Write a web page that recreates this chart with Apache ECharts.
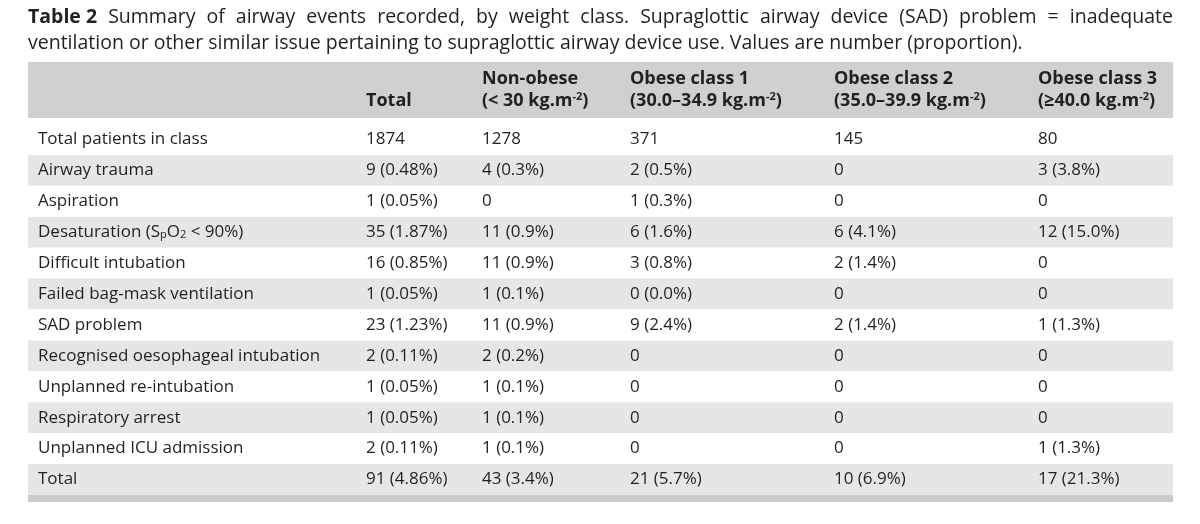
<!DOCTYPE html>
<html>
<head>
<meta charset="utf-8">
<script src="https://cdn.jsdelivr.net/npm/echarts@6/dist/echarts.min.js"></script>
<style>
  html, body { margin: 0; padding: 0; background: #fff; }
  #chart { width: 1200px; height: 524px; }
</style>
</head>
<body>
<div id="chart"></div>
<script>
// caption
const captionLabel = 'Table 2';
const captionLine1 = 'Summary of airway events recorded, by weight class. Supraglottic airway device (SAD) problem = inadequate';
const captionLine2 = 'ventilation or other similar issue pertaining to supraglottic airway device use. Values are number (proportion).';

// column headers (two lines each)
const columnHeads = [
  ['', 'Total'],
  ['Non-obese', '(< 30 kg.m{sup|-2})'],
  ['Obese class 1', '(30.0\u201334.9 kg.m{sup|-2})'],
  ['Obese class 2', '(35.0\u201339.9 kg.m{sup|-2})'],
  ['Obese class 3', '(\u226540.0 kg.m{sup|-2})'],
];

// row categories
const rowLabels = [
  'Total patients in class',
  'Airway trauma',
  'Aspiration',
  'Desaturation (S{sub|p}O{sub|2} < 90%)',
  'Difficult intubation',
  'Failed bag-mask ventilation',
  'SAD problem',
  'Recognised oesophageal intubation',
  'Unplanned re-intubation',
  'Respiratory arrest',
  'Unplanned ICU admission',
  'Total',
];

// values, number (proportion)
const totalAll = ['1874', '9 (0.48%)', '1 (0.05%)', '35 (1.87%)', '16 (0.85%)', '1 (0.05%)',
  '23 (1.23%)', '2 (0.11%)', '1 (0.05%)', '1 (0.05%)', '2 (0.11%)', '91 (4.86%)'];
const nonObese = ['1278', '4 (0.3%)', '0', '11 (0.9%)', '11 (0.9%)', '1 (0.1%)',
  '11 (0.9%)', '2 (0.2%)', '1 (0.1%)', '1 (0.1%)', '1 (0.1%)', '43 (3.4%)'];
const obese1 = ['371', '2 (0.5%)', '1 (0.3%)', '6 (1.6%)', '3 (0.8%)', '0 (0.0%)',
  '9 (2.4%)', '0', '0', '0', '0', '21 (5.7%)'];
const obese2 = ['145', '0', '0', '6 (4.1%)', '2 (1.4%)', '0',
  '2 (1.4%)', '0', '0', '0', '0', '10 (6.9%)'];
const obese3 = ['80', '3 (3.8%)', '0', '12 (15.0%)', '0', '0',
  '1 (1.3%)', '0', '0', '0', '1 (1.3%)', '17 (21.3%)'];

const valueColumns = [totalAll, nonObese, obese1, obese2, obese3];

// layout
const left = 28;
const right = 1173;
const tableW = right - left;
const colX = [338, 454, 602, 806, 1010]; // column text offsets inside the table
const textColor = '#231f20';
const fontFamily = '"Open Sans", Lato, sans-serif';
const bodySize = 17;

const rich = {
  sub: { fontSize: 11, verticalAlign: 'bottom', padding: [6, 0, 0, 0], fontFamily, fill: textColor },
};
const headRich = {
  sup: { fontSize: 11, fontWeight: 'bold', padding: [0, 0, 8, 0], fontFamily },
};

// cell list for the custom series
const cells = [];
valueColumns.forEach((col, c) => {
  col.forEach((txt, r) => cells.push([colX[c], r, txt]));
});

// caption words, justified over the table width on line 1
const ctx = document.createElement('canvas').getContext('2d');
function measure(str, font) {
  ctx.font = font;
  return ctx.measureText(str).width;
}
const capSize = 19.5;
const capFont = capSize + 'px ' + fontFamily;
const capBold = 'bold ' + capSize + 'px ' + fontFamily;
const words = [captionLabel].concat(captionLine1.split(' '));
const widths = words.map((w, i) => measure(w, i === 0 ? capBold : capFont));
const gap = (tableW - widths.reduce((a, b) => a + b, 0)) / (words.length - 1);

const graphics = [];
let cx = left;
words.forEach((w, i) => {
  graphics.push({
    type: 'text', x: cx, y: 17,
    style: { text: w, fill: textColor, fontSize: capSize, fontFamily,
      fontWeight: i === 0 ? 'bold' : 'normal', verticalAlign: 'middle' },
  });
  cx += widths[i] + gap;
});
graphics.push({
  type: 'text', x: left, y: 43,
  style: { text: captionLine2, fill: textColor, fontSize: capSize, fontFamily, verticalAlign: 'middle' },
});

// header band and bottom rule
graphics.push({ type: 'rect', z: -1, shape: { x: left, y: 62, width: tableW, height: 56 }, style: { fill: '#d0d0d0' } });
graphics.push({ type: 'rect', z: -1, shape: { x: left, y: 495, width: tableW, height: 7 }, style: { fill: '#c9c9c9' } });

columnHeads.forEach((h, c) => {
  [h[0], h[1]].forEach((line, k) => {
    if (!line) return;
    graphics.push({
      type: 'text', x: left + colX[c], y: k === 0 ? 79 : 101,
      style: { text: line, rich: headRich, fill: textColor, fontSize: 18, fontWeight: 'bold',
        fontFamily, verticalAlign: 'middle' },
    });
  });
});

const chart = echarts.init(document.getElementById('chart'));
chart.setOption({
  animation: false,
  backgroundColor: '#fff',
  graphic: graphics,
  grid: { left: left, right: 1200 - right, top: 124, bottom: 29 },
  xAxis: { type: 'value', min: 0, max: tableW, show: false },
  yAxis: {
    type: 'category',
    inverse: true,
    data: rowLabels,
    axisLine: { show: false },
    axisTick: { show: false },
    splitLine: { show: false },
    splitArea: { show: true, areaStyle: { color: ['#ffffff', '#e6e6e6'] } },
    axisLabel: {
      inside: true, margin: 10, interval: 0,
      color: textColor, fontSize: bodySize, fontFamily, rich: rich,
    },
  },
  series: [{
    type: 'custom',
    data: cells,
    silent: true,
    renderItem: function (params, api) {
      const p = api.coord([api.value(0), api.value(1)]);
      return {
        type: 'text', x: p[0], y: p[1],
        style: { text: cells[params.dataIndex][2], fill: textColor, fontSize: bodySize,
          fontFamily, verticalAlign: 'middle' },
      };
    },
  }],
});
</script>
</body>
</html>
